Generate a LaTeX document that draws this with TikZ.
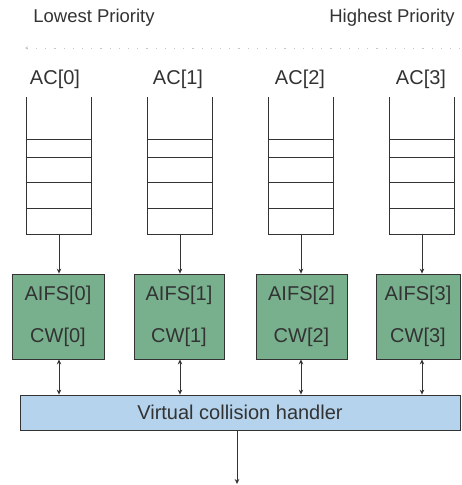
\documentclass[tikz,border=0pt]{standalone}
\usepackage{fontspec}
\setmainfont{Liberation Sans}
\usetikzlibrary{arrows.meta,calc}
\definecolor{qline}{HTML}{333333}
\definecolor{aifsgreen}{HTML}{78B08E}
\definecolor{handlerblue}{HTML}{B5D3EC}
\tikzset{
  lbl/.style={inner sep=0pt, text=qline, font=\fontsize{20}{24}\selectfont},
  prio/.style={inner sep=0pt, text=qline, font=\fontsize{18.5}{22}\selectfont},
  queue/.style={inner sep=0pt, minimum width=64pt, minimum height=137pt},
  paramblock/.style={draw=qline, line width=0.8pt, fill=aifsgreen, minimum height=85pt,
    inner sep=0pt, align=center, text=qline, font=\fontsize{20}{42}\selectfont},
  handler/.style={draw=qline, line width=0.8pt, fill=handlerblue, minimum width=440pt,
    minimum height=35pt, inner sep=0pt, text=qline, font=\fontsize{20}{24}\selectfont},
  qdraw/.style={draw=qline, line width=0.8pt},
  flow/.style={draw=qline, line width=0.8pt, -{Stealth[length=5pt,width=4.5pt]}},
  bothway/.style={draw=qline, line width=0.8pt, {Stealth[length=5pt,width=4.5pt]}-{Stealth[length=5pt,width=4.5pt]}},
}
\begin{document}
\begin{tikzpicture}[x=1pt,y=-1pt]
\useasboundingbox (0,0) rectangle (461,485);

% priority scale
\node[prio] (low) at (94,18) {Lowest Priority};
\node[prio] (high) at (392,18) {Highest Priority};
\coordinate (scaleL) at (25,48);
\coordinate (scaleR) at (461,48);
\draw[gray!45, line width=0.9pt, dash pattern=on 1.2pt off 8pt, {Stealth[length=3pt,width=3pt]}-] (scaleL) -- (scaleR);

% access category labels
\node[lbl] (ac0) at (55,79) {AC[0]};
\node[lbl] (ac1) at (178,79) {AC[1]};
\node[lbl] (ac2) at (300,79) {AC[2]};
\node[lbl] (ac3) at (421,79) {AC[3]};

% transmit queues (open at the top)
\node[queue] (q0) at (59,165.5) {};
\node[queue] (q1) at (180,165.5) {};
\node[queue] (q2) at (301,165.5) {};
\node[queue] (q3) at (422,165.5) {};
\foreach \q in {q0,q1,q2,q3}{
  \draw[qdraw] (\q.north west) -- (\q.south west) -- (\q.south east) -- (\q.north east);
  \foreach \y in {139,157,182,208}
    \draw[qdraw] (\q.west |- 0,\y) -- (\q.east |- 0,\y);
}

% AIFS / CW parameter blocks
\node[paramblock, minimum width=92pt] (g0) at (58,316.5) {AIFS[0]\\CW[0]};
\node[paramblock, minimum width=90pt] (g1) at (179,316.5) {AIFS[1]\\CW[1]};
\node[paramblock, minimum width=91pt] (g2) at (301.5,316.5) {AIFS[2]\\CW[2]};
\node[paramblock, minimum width=84pt] (g3) at (418,316.5) {AIFS[3]\\CW[3]};

% virtual collision handler
\node[handler] (vch) at (240,412.5) {Virtual collision handler};
\coordinate (out) at (237,484);

% connectors
\foreach \i in {0,1,2,3}{
  \draw[flow] (q\i.south) -- (q\i.south |- g\i.north);
  \draw[bothway] (q\i.south |- g\i.south) -- (q\i.south |- vch.north);
}
\draw[flow] (out |- vch.south) -- (out);
\end{tikzpicture}
\end{document}
